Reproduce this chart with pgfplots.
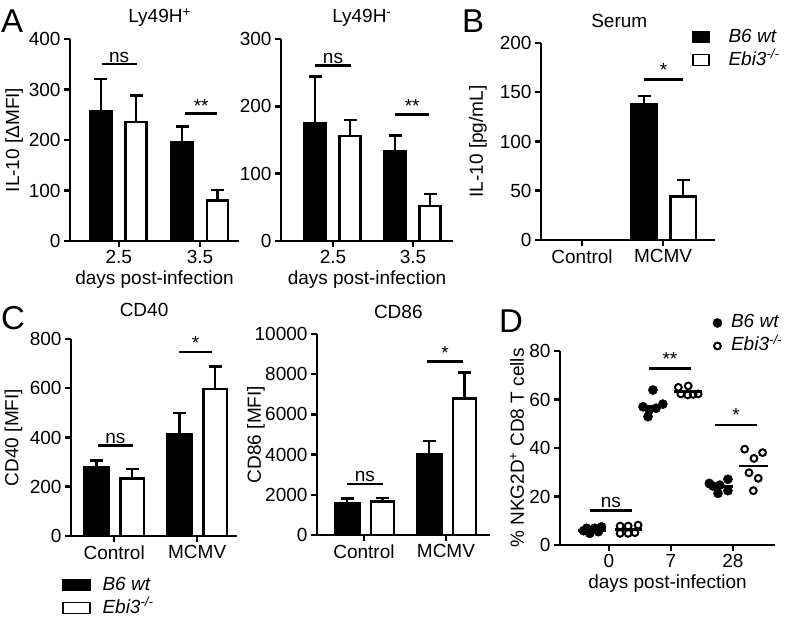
\documentclass[border=0pt]{standalone}
\usepackage{pgfplots}
\pgfplotsset{compat=1.18}
\usepackage{fontspec}
\setmainfont{Liberation Sans}
\newcommand{\fs}[1]{\fontsize{#1}{#1}\selectfont}
\pgfplotsset{
  gp/.style={
    scale only axis,
    anchor=south west,
    axis x line*=bottom, axis y line*=left,
    axis line style={line width=2.5pt,-},
    tick pos=left,
    tick align=outside,
    major tick length=6pt,
    every tick/.style={line width=2.5pt, black},
    minor tick num=0,
    ymin=0,
    scaled y ticks=false,
    /pgf/number format/assume math mode=true,
    /pgf/number format/1000 sep={},
    ticklabel style={font=\fs{19}},
    label style={font=\fs{19}},
    title style={font=\fs{19}, anchor=base},
    clip=false,
    xtick={0,1},
  },
  yl/.style={ylabel style={at={(axis description cs:#1,0.5)}, anchor=center}},
  ebar/.style={
    /pgfplots/error bars/y dir=plus,
    /pgfplots/error bars/y explicit,
    /pgfplots/error bars/error bar style={line width=2.5pt, black},
    /pgfplots/error bars/error mark options={rotate=90, mark size=6.5pt, line width=2.5pt, black}},
  blackbar/.style={ybar, bar shift=0pt, fill=black, draw=black, line width=2.5pt, forget plot, ebar},
  whitebar/.style={ybar, bar shift=0pt, fill=white, draw=black, line width=2.5pt, forget plot, ebar},
  sig/.style={line width=2.5pt, black, no marks, forget plot},
  barlegend/.style={
    legend image code/.code={\draw[##1] (0pt,-5.5pt) rectangle (#1,5.5pt);},
    legend style={draw=none, fill=none, font=\fs{19}, inner sep=0pt, outer sep=0pt,
      row sep=3pt, nodes={inner sep=1pt, text height=14pt, text depth=4pt, anchor=west}},
    legend cell align=left},
}
\begin{document}
\begin{tikzpicture}[x=1pt,y=1pt]
\path[use as bounding box] (0,0) rectangle (793,621);

% ---------- A1 ----------
\begin{axis}[gp, at={(70pt,380pt)}, width=169pt, height=202pt,
  xmin=-0.6, xmax=1.48, ymax=400, ytick={0,100,200,300,400},
  xticklabels={2.5,3.5}, xlabel={days post-infection},
  ylabel={IL-10 [ΔMFI]}, yl=-0.33,
  title={Ly49H\textsuperscript{+}}, title style={at={(0.53,1.053)}}]
\addplot[blackbar, bar width=21.5pt] coordinates {(-0.221,256) +- (0,65) (0.779,195) +- (0,32)};
\addplot[whitebar, bar width=21pt] coordinates {(0.215,236) +- (0,52) (1.215,80) +- (0,21)};
\addplot[sig] coordinates {(-0.21,350) (0.22,350)};
\addplot[sig] coordinates {(0.82,252) (1.21,252)};
\node[font=\fs{19}, anchor=base] at (axis cs:0.005,353) {ns};
\node[font=\fs{19}, anchor=base] at (axis cs:1.015,255) {**};
\end{axis}

% ---------- A2 ----------
\begin{axis}[gp, at={(281pt,380pt)}, width=172pt, height=202pt,
  xmin=-0.65, xmax=1.5, ymax=300, ytick={0,100,200,300},
  xticklabels={2.5,3.5}, xlabel={days post-infection},
  title={Ly49H\textsuperscript{-}}, title style={at={(0.47,1.053)}}]
\addplot[blackbar, bar width=21.5pt] coordinates {(-0.2225,175) +- (0,69) (0.7775,133) +- (0,24)};
\addplot[whitebar, bar width=21pt] coordinates {(0.2125,156) +- (0,24) (1.2125,52) +- (0,18)};
\addplot[sig] coordinates {(-0.225,261) (0.225,261)};
\addplot[sig] coordinates {(0.775,188) (1.2,188)};
\node[font=\fs{19}, anchor=base] at (axis cs:0,263.5) {ns};
\node[font=\fs{19}, anchor=base] at (axis cs:0.99,190.5) {**};
\end{axis}

% ---------- B ----------
\begin{axis}[gp, at={(541pt,381pt)}, width=174pt, height=197pt,
  xmin=-0.506, xmax=1.64, ymax=200, ytick={0,50,100,150,200},
  xticklabels={Control,MCMV},
  ylabel={IL-10 [pg/mL]}, yl=-0.362,
  title={Serum}, title style={at={(0.45,1.049)}},
  barlegend=16pt,
  legend style={at={(0.868,1.081)}, anchor=north west,
    /tikz/every odd column/.append style={column sep=18pt}}]
\addlegendimage{draw=black, fill=black, line width=1.5pt}
\addlegendentry{\textit{B6 wt}}
\addlegendimage{draw=black, fill=white, line width=1.5pt}
\addlegendentry{\textit{Ebi3}\textsuperscript{\textit{-/-}}}
\addplot[blackbar, bar width=25.5pt] coordinates {(0.7654,138) +- (0,8)};
\addplot[whitebar, bar width=25.5pt] coordinates {(1.247,44) +- (0,17)};
\addplot[sig] coordinates {(0.765,162.7) (1.25,162.7)};
\node[font=\fs{19}, anchor=base] at (axis cs:1.007,165.5) {*};
\end{axis}

% ---------- C1 ----------
\begin{axis}[gp, at={(71pt,85pt)}, width=166pt, height=197pt,
  xmin=-0.52, xmax=1.48, ymax=800, ytick={0,200,400,600,800},
  xticklabels={Control,MCMV},
  ylabel={CD40 [MFI]}, yl=-0.346,
  title={CD40}, title style={at={(0.44,1.085)}},
  barlegend=27pt,
  legend style={at={(-0.054,-0.198)}, anchor=north west,
    /tikz/every odd column/.append style={column sep=11pt}}]
\addlegendimage{draw=black, fill=black, line width=1.5pt}
\addlegendentry{\textit{B6 wt}}
\addlegendimage{draw=black, fill=white, line width=1.5pt}
\addlegendentry{\textit{Ebi3}\textsuperscript{\textit{-/-}}}
\addplot[blackbar, bar width=24.5pt] coordinates {(-0.211,280) +- (0,26) (0.789,415) +- (0,84)};
\addplot[whitebar, bar width=23.5pt] coordinates {(0.217,234) +- (0,38) (1.217,597) +- (0,91)};
\addplot[sig] coordinates {(-0.2,367) (0.23,367)};
\addplot[sig] coordinates {(0.78,747) (1.18,747)};
\node[font=\fs{19}, anchor=base] at (axis cs:0.015,377) {ns};
\node[font=\fs{19}, anchor=base] at (axis cs:0.98,757) {*};
\end{axis}

% ---------- C2 ----------
\begin{axis}[gp, at={(317pt,86pt)}, width=173pt, height=201pt,
  xmin=-0.573, xmax=1.537, ymax=10000, ytick={0,2000,4000,6000,8000,10000},
  xticklabels={Control,MCMV},
  ylabel={CD86 [MFI]}, yl=-0.353,
  title={CD86}, title style={at={(0.47,1.048)}}]
\addplot[blackbar, bar width=24.5pt] coordinates {(-0.207,1600) +- (0,220) (0.793,4020) +- (0,660)};
\addplot[whitebar, bar width=23pt] coordinates {(0.226,1660) +- (0,180) (1.226,6780) +- (0,1300)};
\addplot[sig] coordinates {(-0.21,2540) (0.23,2540)};
\addplot[sig] coordinates {(0.77,8620) (1.21,8620)};
\node[font=\fs{19}, anchor=base] at (axis cs:0.01,2660) {ns};
\node[font=\fs{19}, anchor=base] at (axis cs:0.99,8740) {*};
\end{axis}

% ---------- D ----------
\begin{axis}[gp, at={(560pt,76pt)}, width=215pt, height=194pt,
  xmin=-0.79, xmax=2.68, ymax=80, ytick={0,20,40,60,80},
  xtick={0,1,2}, xticklabels={0,7,28}, xlabel={days post-infection},
  ylabel={\% NKG2D\textsuperscript{+} CD8 T cells}, yl=-0.2,
  legend style={draw=none, fill=none, font=\fs{19}, inner sep=0pt, outer sep=0pt,
      row sep=3pt, nodes={inner sep=1pt, text height=14pt, text depth=4pt, anchor=west},
      at={(0.711,1.196)}, anchor=north west,
      /tikz/every odd column/.append style={column sep=8pt}},
  legend cell align=left]
\addplot[sig] coordinates {(-0.5,6.0) (-0.05,6.0)};
\addplot[sig] coordinates {(0.1,6.3) (0.53,6.3)};
\addplot[sig] coordinates {(0.48,57.1) (0.91,57.1)};
\addplot[sig] coordinates {(1.05,63.2) (1.5,63.2)};
\addplot[sig] coordinates {(1.58,24.2) (2.0,24.2)};
\addplot[sig] coordinates {(2.1,32.6) (2.56,32.6)};
\addplot[only marks, mark=*, mark size=4.6pt, mark options={fill=black, draw=black, line width=0.4pt}]
  coordinates {(-0.41,5.9) (-0.31,4.8) (-0.23,6.9) (-0.12,7.5) (-0.17,5.5) (-0.36,6.9)
               (0.71,63.9) (0.55,57.0) (0.65,55.7) (0.76,56.4) (0.87,58.1) (0.63,52.9)
               (1.62,25.4) (1.79,24.7) (1.92,27.1) (1.76,21.3) (1.92,22.4) (1.68,24.3)};
\addlegendentry{\textit{B6 wt}}
\addplot[only marks, mark=o, mark size=3.4pt, mark options={draw=black, line width=2pt}]
  coordinates {(0.18,7.8) (0.31,7.8) (0.47,8.2) (0.18,4.8) (0.31,4.8) (0.42,5.1)
               (1.12,65.0) (1.28,65.6) (1.16,62.3) (1.27,61.9) (1.36,62.1) (1.44,62.3)
               (2.19,39.5) (2.34,35.7) (2.48,38.1) (2.26,29.8) (2.41,27.5) (2.33,22.4)};
\addlegendentry{\textit{Ebi3}\textsuperscript{\textit{-/-}}}
\addplot[sig] coordinates {(-0.31,14.2) (0.37,14.2)};
\addplot[sig] coordinates {(0.65,72.8) (1.32,72.8)};
\addplot[sig] coordinates {(1.71,49.5) (2.39,49.5)};
\node[font=\fs{19}, anchor=base] at (axis cs:0.03,15.6) {ns};
\node[font=\fs{19}, anchor=base] at (axis cs:0.985,74.2) {**};
\node[font=\fs{19}, anchor=base] at (axis cs:2.05,50.9) {*};
\end{axis}

% panel letters
\node[font=\fs{33}, anchor=base west, inner sep=0pt] at (1,588) {A};
\node[font=\fs{33}, anchor=base west, inner sep=0pt] at (462,588) {B};
\node[font=\fs{33}, anchor=base west, inner sep=0pt] at (1,291) {C};
\node[font=\fs{33}, anchor=base west, inner sep=0pt] at (499,288) {D};
\end{tikzpicture}
\end{document}
